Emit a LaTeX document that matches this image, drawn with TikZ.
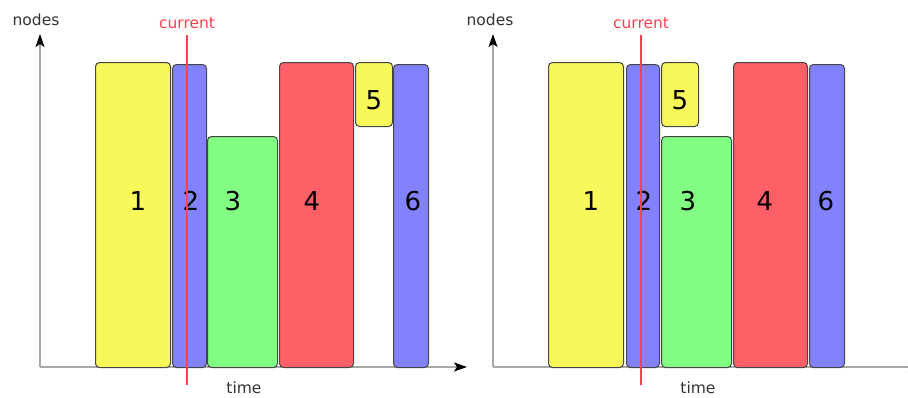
\documentclass[tikz,border=0pt]{standalone}
\usepackage{fontspec}
\setmainfont{DejaVu Sans}
\usetikzlibrary{arrows.meta}

\definecolor{jobyellow}{HTML}{F8F85A}
\definecolor{jobblue}{HTML}{8282FF}
\definecolor{jobgreen}{HTML}{82FF82}
\definecolor{jobred}{HTML}{FF5F66}
\definecolor{boxedge}{HTML}{454545}
\definecolor{axisgray}{HTML}{A8A8A8}
\definecolor{nowred}{HTML}{FF4050}
\definecolor{textgray}{HTML}{333333}

\tikzset{
  job/.style={draw=boxedge, line width=1pt, rounded corners=4pt,
              inner sep=0pt, anchor=north west},
  num/.style={font=\fontsize{26}{30}\selectfont, text=black, inner sep=0pt},
  axislabel/.style={font=\fontsize{15.5}{18}\selectfont, text=textgray, inner sep=0pt},
  nowlabel/.style={font=\fontsize{15.5}{18}\selectfont, text=nowred, inner sep=0pt},
  axis/.style={draw=axisgray, line width=1.4pt,
               -{Stealth[length=13pt, width=9pt, inset=3pt, color=black]}},
  nowline/.style={color=nowred, line width=1.1pt},
}

\begin{document}
\begin{tikzpicture}[x=1pt, y=-1pt]
  \useasboundingbox (0,0) rectangle (908,397);

  % ---------------- left schedule ----------------
  \coordinate (Lo) at (40,367);
  \coordinate (Ly) at (40,34);
  \coordinate (Lx) at (467,367);
  \draw[axis] (Lo) -- (Ly);
  \draw[axis] (Lo) -- (Lx);
  \node[axislabel] (Lnodes) at (36,20) {nodes};
  \node[axislabel] (Ltime) at (244,388) {time};

  \node[job, fill=jobyellow, minimum width=75pt, minimum height=305pt] (L1) at (95,62) {};
  \node[job, fill=jobblue,   minimum width=34pt, minimum height=303pt] (L2) at (172,64) {};
  \node[job, fill=jobgreen,  minimum width=70pt, minimum height=231pt] (L3) at (207,136) {};
  \node[job, fill=jobred,    minimum width=74pt, minimum height=305pt] (L4) at (279,62) {};
  \node[job, fill=jobyellow, minimum width=37pt, minimum height=64pt]  (L5) at (355,62) {};
  \node[job, fill=jobblue,   minimum width=35pt, minimum height=303pt] (L6) at (393,64) {};

  \node[num] (L1n) at (138,201) {1};
  \node[num] (L2n) at (191,201) {2};
  \node[num] (L3n) at (233,201) {3};
  \node[num] (L4n) at (312,201) {4};
  \node[num] (L5n) at (374,100) {5};
  \node[num] (L6n) at (413,201) {6};

  \node[nowlabel] (Lnow) at (187,23) {current};
  \coordinate (Lnowtop) at (187,35);
  \coordinate (Lnowend) at (187,385);
  \draw[nowline] (Lnowtop) -- (Lnowend);

  % ---------------- right schedule ----------------
  \coordinate (Ro) at (493,367);
  \coordinate (Ry) at (493,34);
  \coordinate (Rx) at (921,367);
  \draw[axis] (Ro) -- (Ry);
  \draw[axis] (Ro) -- (Rx);
  \node[axislabel] (Rnodes) at (490,20) {nodes};
  \node[axislabel] (Rtime) at (698,388) {time};

  \node[job, fill=jobyellow, minimum width=75pt, minimum height=305pt] (R1) at (548,62) {};
  \node[job, fill=jobblue,   minimum width=33pt, minimum height=303pt] (R2) at (626,64) {};
  \node[job, fill=jobyellow, minimum width=37pt, minimum height=64pt]  (R5) at (661,62) {};
  \node[job, fill=jobgreen,  minimum width=70pt, minimum height=231pt] (R3) at (661,136) {};
  \node[job, fill=jobred,    minimum width=74pt, minimum height=305pt] (R4) at (733,62) {};
  \node[job, fill=jobblue,   minimum width=35pt, minimum height=303pt] (R6) at (809,64) {};

  \node[num] (R1n) at (591,201) {1};
  \node[num] (R2n) at (644,201) {2};
  \node[num] (R3n) at (688,201) {3};
  \node[num] (R4n) at (765,201) {4};
  \node[num] (R5n) at (680,100) {5};
  \node[num] (R6n) at (826,201) {6};

  \node[nowlabel] (Rnow) at (641,23) {current};
  \coordinate (Rnowtop) at (641,35);
  \coordinate (Rnowend) at (641,385);
  \draw[nowline] (Rnowtop) -- (Rnowend);
\end{tikzpicture}
\end{document}
